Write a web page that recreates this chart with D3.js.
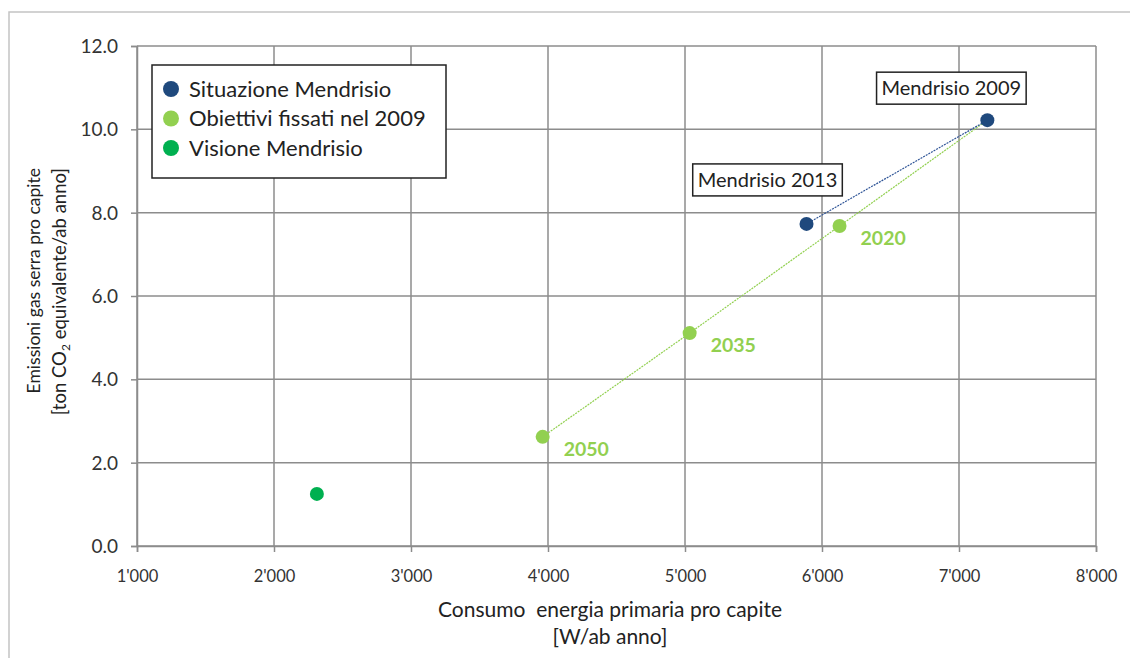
<!DOCTYPE html>
<html>
<head>
<meta charset="utf-8">
<script src="https://cdn.jsdelivr.net/npm/d3@7"></script>
<style>
	body { margin: 0; background: #fff; }
	svg { display: block; font-family: "Lato", "Open Sans", sans-serif; }
</style>
</head>
<body>
<svg id="chart" width="1130" height="658"></svg>
<script>
// data
var situazioneNames = ["Mendrisio 2009", "Mendrisio 2013"];
var situazioneX = [7207, 5887];
var situazioneY = [10.22, 7.73];

var obiettiviYears = ["", "2020", "2035", "2050"];
var obiettiviX = [7207, 6128, 5034, 3961];
var obiettiviY = [10.22, 7.68, 5.11, 2.62];

var visioneX = [2313];
var visioneY = [1.25];

var xTicks = [1000, 2000, 3000, 4000, 5000, 6000, 7000, 8000];
var yTicks = [0, 2, 4, 6, 8, 10, 12];

var seriesNames = ["Situazione Mendrisio", "Obiettivi fissati nel 2009", "Visione Mendrisio"];
var seriesColors = ["#1f497d", "#92d050", "#00b050"];

var svg = d3.select("#chart");

// outer frame of the chart
svg.append("rect")
	.attr("x", 9).attr("y", 12)
	.attr("width", 1200).attr("height", 700)
	.attr("fill", "none")
	.attr("stroke", "#c4c4c4")
	.attr("stroke-width", 1.5);

var margin = {left: 137, right: 1096, top: 46, bottom: 546};

var x = d3.scaleLinear().domain([1000, 8000]).range([margin.left, margin.right]);
var y = d3.scaleLinear().domain([0, 12]).range([margin.bottom, margin.top]);

var locale = d3.formatLocale({decimal: ".", thousands: "'", grouping: [3], currency: ["", ""]});
var fmtX = locale.format(",");
var fmtY = d3.format(".1f");

var gridColor = "#8c8c8c";

// grid
var grid = svg.append("g");
grid.selectAll(".vg").data(xTicks).enter()
	.append("line")
	.attr("x1", function(d){ return x(d); })
	.attr("x2", function(d){ return x(d); })
	.attr("y1", margin.top)
	.attr("y2", margin.bottom)
	.attr("stroke", gridColor)
	.attr("stroke-width", 1.5);
grid.selectAll(".hg").data(yTicks).enter()
	.append("line")
	.attr("x1", margin.left)
	.attr("x2", margin.right)
	.attr("y1", function(d){ return y(d); })
	.attr("y2", function(d){ return y(d); })
	.attr("stroke", gridColor)
	.attr("stroke-width", 1.5);

// axes
var xAxis = svg.append("g")
	.attr("transform", "translate(0," + margin.bottom + ")")
	.call(d3.axisBottom(x).tickValues(xTicks).tickFormat(fmtX).tickSize(6).tickPadding(18));
var yAxis = svg.append("g")
	.attr("transform", "translate(" + margin.left + ",0)")
	.call(d3.axisLeft(y).tickValues(yTicks).tickFormat(fmtY).tickSize(6).tickPadding(13));

[xAxis, yAxis].forEach(function(ax){
	ax.select(".domain").attr("stroke", gridColor).attr("stroke-width", 1.5);
	ax.selectAll(".tick line").attr("stroke", gridColor).attr("stroke-width", 1.5);
	ax.selectAll(".tick text")
		.attr("fill", "#333")
		.style("font-family", "Lato, sans-serif");
});
xAxis.selectAll(".tick text").attr("dy", "0.71em").style("font-size", "16.5px");
yAxis.selectAll(".tick text").attr("dy", "0.35em").style("font-size", "19px");

// axis titles
svg.append("text")
	.attr("x", 610).attr("y", 617)
	.attr("text-anchor", "middle")
	.attr("fill", "#222")
	.style("font-size", "21px")
	.attr("xml:space", "preserve")
	.text("Consumo  energia primaria pro capite");
svg.append("text")
	.attr("x", 610).attr("y", 644)
	.attr("text-anchor", "middle")
	.attr("fill", "#222")
	.style("font-size", "21px")
	.text("[W/ab anno]");

// y title, two lines ending at the same height
var yTitle = svg.append("g");
yTitle.append("text")
	.attr("transform", "translate(40,168) rotate(-90)")
	.attr("text-anchor", "end")
	.attr("fill", "#222")
	.style("font-size", "17.5px")
	.text("Emissioni gas serra pro capite");
var t2 = yTitle.append("text")
	.attr("transform", "translate(66,168) rotate(-90)")
	.attr("text-anchor", "end")
	.attr("fill", "#222")
	.style("font-size", "18.5px");
t2.append("tspan").text("[ton CO");
t2.append("tspan").attr("dy", 4).style("font-size", "12px").text("2");
t2.append("tspan").attr("dy", -4).text(" equivalente/ab anno]");

// lines (thin dotted)
var line = d3.line()
	.x(function(d){ return x(d[0]); })
	.y(function(d){ return y(d[1]); });

var obPts = obiettiviX.map(function(v, i){ return [v, obiettiviY[i]]; });
var siPts = situazioneX.map(function(v, i){ return [v, situazioneY[i]]; });

svg.append("path")
	.attr("d", line(obPts))
	.attr("fill", "none")
	.attr("stroke", seriesColors[1])
	.attr("stroke-width", 1.2)
	.attr("stroke-dasharray", "2,1");
svg.append("path")
	.attr("d", line(siPts))
	.attr("fill", "none")
	.attr("stroke", "#2f5597")
	.attr("stroke-width", 1.2)
	.attr("stroke-dasharray", "2,1");

// markers
var r = 7;
svg.selectAll(".ob").data(obPts.slice(1)).enter()
	.append("circle")
	.attr("cx", function(d){ return x(d[0]); })
	.attr("cy", function(d){ return y(d[1]); })
	.attr("r", r)
	.attr("fill", seriesColors[1]);
svg.selectAll(".si").data(siPts).enter()
	.append("circle")
	.attr("cx", function(d){ return x(d[0]); })
	.attr("cy", function(d){ return y(d[1]); })
	.attr("r", r)
	.attr("fill", seriesColors[0]);
svg.selectAll(".vi").data(visioneX).enter()
	.append("circle")
	.attr("cx", function(d){ return x(d); })
	.attr("cy", function(d, i){ return y(visioneY[i]); })
	.attr("r", r)
	.attr("fill", seriesColors[2]);

// year labels for the targets
svg.selectAll(".yl").data(obPts).enter()
	.append("text")
	.attr("x", function(d){ return x(d[0]) + 21; })
	.attr("y", function(d){ return y(d[1]) + 19; })
	.attr("fill", seriesColors[1])
	.style("font-size", "19.5px")
	.style("font-weight", "bold")
	.text(function(d, i){ return obiettiviYears[i]; });

// boxed labels for Mendrisio points
var boxOffsets = [[-36, -32], [-39, -44]];
siPts.forEach(function(d, i){
	var cx = x(d[0]) + boxOffsets[i][0];
	var cy = y(d[1]) + boxOffsets[i][1];
	var g = svg.append("g");
	var txt = g.append("text")
		.attr("x", cx).attr("y", cy)
		.attr("text-anchor", "middle")
		.attr("dy", "0.35em")
		.attr("fill", "#222")
		.style("font-size", "20px")
		.text(situazioneNames[i]);
	var bb = txt.node().getBBox();
	g.insert("rect", "text")
		.attr("x", bb.x - 5).attr("y", cy - 16)
		.attr("width", bb.width + 10).attr("height", 32)
		.attr("fill", "#fff")
		.attr("stroke", "#222")
		.attr("stroke-width", 1.5);
});

// legend
var legend = svg.append("g").attr("transform", "translate(152,65)");
legend.append("rect")
	.attr("width", 294).attr("height", 113)
	.attr("fill", "#fff")
	.attr("stroke", "#222")
	.attr("stroke-width", 1.5);
var items = legend.selectAll(".li").data(seriesNames).enter()
	.append("g")
	.attr("transform", function(d, i){ return "translate(0," + (24 + i * 29.5) + ")"; });
items.append("circle")
	.attr("cx", 19).attr("cy", 0).attr("r", 8)
	.attr("fill", function(d, i){ return seriesColors[i]; });
items.append("text")
	.attr("x", 37).attr("dy", "0.35em")
	.attr("fill", "#222")
	.style("font-size", "22px")
	.text(function(d){ return d; });
</script>
</body>
</html>
